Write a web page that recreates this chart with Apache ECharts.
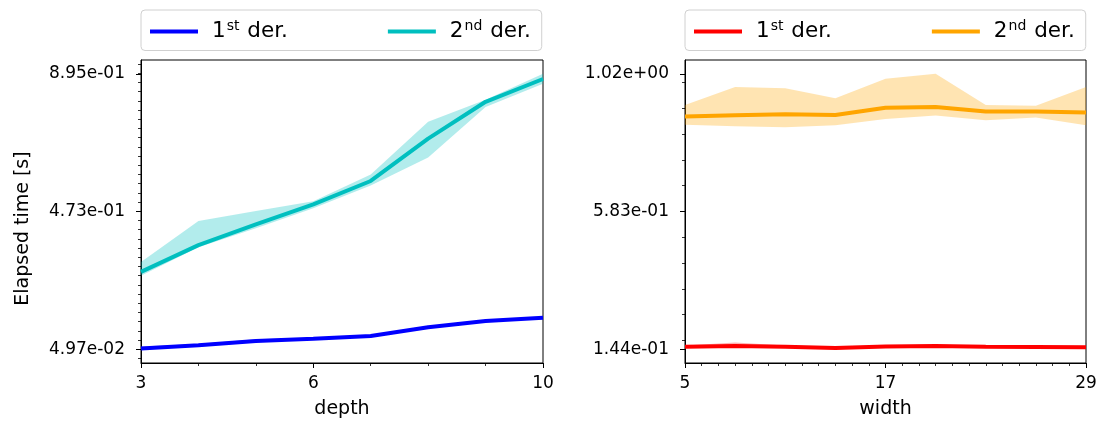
<!DOCTYPE html>
<html><head><meta charset="utf-8">
<script src="https://cdn.jsdelivr.net/npm/echarts@6/dist/echarts.min.js"></script>
<style>html,body{margin:0;padding:0;background:#fff}#c{width:1099px;height:422px}</style>
</head><body><div id="c"></div>
<script>
// ---- data: left panel (depth) ----
const depth = [3, 4, 5, 6, 7, 8, 9, 10];
const depthFirst     = [0.052, 0.062, 0.075, 0.082, 0.090, 0.117, 0.136, 0.146];
const depthFirstLow  = [0.0497, 0.059, 0.071, 0.080, 0.088, 0.115, 0.134, 0.144];
const depthFirstHigh = [0.058, 0.066, 0.080, 0.085, 0.093, 0.120, 0.139, 0.149];
const depthSecond     = [0.287, 0.369, 0.433, 0.494, 0.566, 0.696, 0.809, 0.879];
const depthSecondLow  = [0.275, 0.363, 0.421, 0.482, 0.552, 0.638, 0.793, 0.864];
const depthSecondHigh = [0.317, 0.443, 0.474, 0.504, 0.586, 0.748, 0.815, 0.895];
// ---- data: right panel (width) ----
const width = [5, 8, 11, 14, 17, 20, 23, 26, 29];
const widthFirst     = [0.152, 0.154, 0.152, 0.148, 0.153, 0.154, 0.152, 0.151, 0.150];
const widthFirstLow  = [0.148, 0.149, 0.148, 0.144, 0.149, 0.150, 0.148, 0.147, 0.146];
const widthFirstHigh = [0.156, 0.165, 0.156, 0.152, 0.157, 0.158, 0.156, 0.155, 0.154];
const widthSecond     = [0.884, 0.888, 0.891, 0.889, 0.912, 0.914, 0.900, 0.900, 0.897];
const widthSecondLow  = [0.858, 0.853, 0.850, 0.856, 0.876, 0.887, 0.872, 0.881, 0.856];
const widthSecondHigh = [0.921, 0.978, 0.974, 0.942, 1.004, 1.020, 0.921, 0.918, 0.978];
// ---- ticks ----
const depthTicks = [3, 6, 10];
const widthTicks = [5, 17, 29];
const depthYTicks = [0.0497, 0.473, 0.895];
const depthYLabels = ['4.97e-02', '4.73e-01', '8.95e-01'];
const widthYTicks = [0.144, 0.583, 1.02];
const widthYLabels = ['1.44e-01', '5.83e-01', '1.02e+00'];
const legendLabels = {
  d1: '{g|}{n|1}{s|st}{n| der.}', d2: '{g|}{n|2}{s|nd}{n| der.}',
  w1: '{g|}{n|1}{s|st}{n| der.}', w2: '{g|}{n|2}{s|nd}{n| der.}'
};

const FONT = 'DejaVu Sans';
const pair = (xs, ys) => xs.map((x, i) => [x, ys[i]]);
function lim(ticks) { const r = ticks[2] - ticks[0]; return [ticks[0] - 0.05 * r, ticks[2] + 0.05 * r]; }
function range(a, b, step, start) { const o = []; let v = start; while (v > a) v -= step; v += step; for (; v <= b + 1e-9; v += step) o.push(+v.toFixed(6)); return o; }
const [dMin, dMax] = lim(depthYTicks);
const [wMin, wMax] = lim(widthYTicks);
const dMinor = range(dMin, dMax, (depthYTicks[1] - depthYTicks[0]) / 15, depthYTicks[0]);
const wMinor = range(wMin, wMax, 0.082, 0.172);
const xMinorD = range(3, 10, 1, 3);
const xMinorW = range(5, 29, 1, 5);

function bandSeries(idx, xs, lo, hi, color) {
  return { type: 'custom', xAxisIndex: idx, yAxisIndex: idx, silent: true, z: 1,
    data: xs.map((x, i) => [x, lo[i], hi[i]]),
    encode: { x: 0, y: [1, 2] },
    renderItem: (params, api) => {
      if (params.dataIndex !== 0) return null;
      const pts = [];
      for (let i = 0; i < xs.length; i++) pts.push(api.coord([xs[i], hi[i]]));
      for (let i = xs.length - 1; i >= 0; i--) pts.push(api.coord([xs[i], lo[i]]));
      return { type: 'polygon', shape: { points: pts }, style: { fill: color } };
    } };
}
function lineSeries(idx, name, xs, ys, color) {
  return { type: 'line', name, xAxisIndex: idx, yAxisIndex: idx, data: pair(xs, ys), symbol: 'none',
    lineStyle: { color, width: 4 }, itemStyle: { color }, z: 3 };
}
const tickLabel = { fontFamily: FONT, fontSize: 17, color: '#000' };
function xAxisMain(grid, min, max, ticks, name) {
  return { type: 'value', gridIndex: grid, position: 'bottom', min, max, name, nameLocation: 'middle', nameGap: 37,
    nameTextStyle: { fontFamily: FONT, fontSize: 19, color: '#000' },
    axisLine: { show: true, lineStyle: { color: '#000', width: 1 } },
    axisTick: { show: true, length: 5, lineStyle: { color: '#000', width: 1 }, customValues: ticks },
    axisLabel: Object.assign({ margin: 12, customValues: ticks }, tickLabel),
    splitLine: { show: false } };
}
function xAxisMinor(grid, min, max, ticks) {
  return { type: 'value', gridIndex: grid, position: 'bottom', min, max, axisLine: { show: false },
    axisTick: { show: true, length: 3, lineStyle: { color: '#000', width: 0.8 }, customValues: ticks },
    axisLabel: { show: false, customValues: ticks }, splitLine: { show: false } };
}
function yAxisMain(grid, min, max, ticks, labels, name) {
  return { type: 'value', gridIndex: grid, position: 'left', min, max, name, nameLocation: 'middle', nameGap: 108, nameRotate: 90,
    nameTextStyle: { fontFamily: FONT, fontSize: 19, color: '#000', padding: [0, 34, 0, 0] },
    axisLine: { show: true, lineStyle: { color: '#000', width: 1 } },
    axisTick: { show: true, length: 5, lineStyle: { color: '#000', width: 1 }, customValues: ticks },
    axisLabel: Object.assign({ margin: 16, customValues: ticks,
      formatter: v => { let b = 0, bd = 1e9; ticks.forEach((t, i) => { if (Math.abs(t - v) < bd) { bd = Math.abs(t - v); b = i; } }); return labels[b]; } }, tickLabel),
    splitLine: { show: false } };
}
function yAxisMinor(grid, min, max, ticks) {
  return { type: 'value', gridIndex: grid, position: 'left', min, max, axisLine: { show: false },
    axisTick: { show: true, length: 3, lineStyle: { color: '#000', width: 0.8 }, customValues: ticks },
    axisLabel: { show: false, customValues: ticks }, splitLine: { show: false } };
}
function legend(left, names) {
  return { left, top: 10, data: names, orient: 'horizontal', icon: 'rect', itemWidth: 48, itemHeight: 4,
    itemGap: 100, padding: [9, 11, 8, 9], borderColor: '#d0d0d0', borderWidth: 1, borderRadius: 4,
    backgroundColor: '#fff', selectedMode: false,
    formatter: n => legendLabels[n],
    textStyle: { fontFamily: FONT, fontSize: 22, color: '#000',
      rich: { g: { width: 9 }, n: { fontFamily: FONT, fontSize: 21.5, color: '#000', lineHeight: 25 },
        s: { fontFamily: FONT, fontSize: 14, color: '#000', verticalAlign: 'top', lineHeight: 14, padding: [0, 1, 0, 1] } } } };
}

const chart = echarts.init(document.getElementById('c'), null, { renderer: 'canvas' });
chart.setOption({
  backgroundColor: '#fff',
  animation: false,
  legend: [legend(141, ['d1', 'd2']), legend(685, ['w1', 'w2'])],
  grid: [
    { left: 141, top: 60, width: 402, height: 303, outerBoundsMode: 'none', containLabel: false, show: true, borderColor: '#000', borderWidth: 1, backgroundColor: 'transparent' },
    { left: 685, top: 60, width: 401, height: 303, outerBoundsMode: 'none', containLabel: false, show: true, borderColor: '#000', borderWidth: 1, backgroundColor: 'transparent' }
  ],
  xAxis: [
    xAxisMain(0, depth[0], depth[depth.length - 1], depthTicks, 'depth'),
    xAxisMain(1, width[0], width[width.length - 1], widthTicks, 'width'),
    xAxisMinor(0, depth[0], depth[depth.length - 1], xMinorD),
    xAxisMinor(1, width[0], width[width.length - 1], xMinorW)
  ],
  yAxis: [
    yAxisMain(0, dMin, dMax, depthYTicks, depthYLabels, 'Elapsed time [s]'),
    yAxisMain(1, wMin, wMax, widthYTicks, widthYLabels, ''),
    yAxisMinor(0, dMin, dMax, dMinor),
    yAxisMinor(1, wMin, wMax, wMinor)
  ],
  series: [
    bandSeries(0, depth, depthFirstLow, depthFirstHigh, 'rgba(0,0,255,0.3)'),
    bandSeries(0, depth, depthSecondLow, depthSecondHigh, 'rgba(0,191,191,0.3)'),
    bandSeries(1, width, widthFirstLow, widthFirstHigh, 'rgba(255,0,0,0.3)'),
    bandSeries(1, width, widthSecondLow, widthSecondHigh, 'rgba(255,165,0,0.3)'),
    lineSeries(0, 'd1', depth, depthFirst, '#0000ff'),
    lineSeries(0, 'd2', depth, depthSecond, '#00bfbf'),
    lineSeries(1, 'w1', width, widthFirst, '#ff0000'),
    lineSeries(1, 'w2', width, widthSecond, '#ffa500')
  ]
});
</script></body></html>
